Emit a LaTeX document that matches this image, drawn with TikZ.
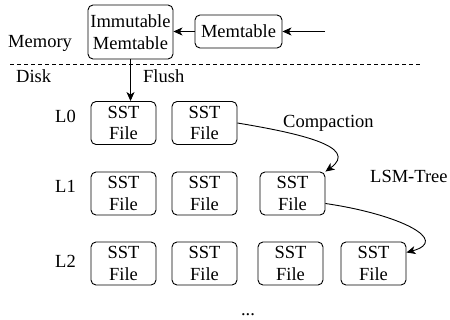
\documentclass[tikz,border=0pt]{standalone}
\usepackage{fontspec}
\setmainfont{Liberation Serif}
\usetikzlibrary{arrows.meta}
\begin{document}
\begin{tikzpicture}[x=1pt,y=-1pt,
  every node/.style={font=\fontsize{18.5}{21.5}\selectfont, inner sep=0pt},
  box/.style={draw, rounded corners=5pt, line width=0.9pt, align=center},
  sst/.style={box, minimum width=65pt, minimum height=43pt},
  lbl/.style={anchor=base west},
  arr/.style={line width=0.9pt, -{Stealth[length=9pt,width=8pt,inset=2.5pt]}}
]
\useasboundingbox (0,0) rectangle (450,320);

% memory tables
\node[box, minimum width=85pt, minimum height=54pt] (imm) at (130.5,32) {Immutable\\Memtable};
\node[box, minimum width=87pt, minimum height=33pt] (mem) at (238.5,31.5) {Memtable};
\coordinate (in) at (325,31.5);
\draw[arr] (in) -- (mem.east);
\draw[arr] (mem.west) -- (imm.east |- mem.west);

% memory / disk split
\draw[dash pattern=on 4pt off 3pt, line width=0.8pt] (10,64) -- (420,64);
\node[lbl] (memlbl) at (8,48) {Memory};
\node[lbl] (disklbl) at (16,83) {Disk};
\node[lbl] (flushlbl) at (143,83) {Flush};

% levels
\node[lbl] (l0lbl) at (55,123) {L0};
\node[lbl] (l1lbl) at (55,193) {L1};
\node[lbl] (l2lbl) at (55,268) {L2};

\node[sst] (l0a) at (123.5,123) {SST\\File};
\node[sst] (l0b) at (204.5,123) {SST\\File};

\node[sst] (l1a) at (123.5,193.5) {SST\\File};
\node[sst] (l1b) at (204.5,193.5) {SST\\File};
\node[sst] (l1c) at (292.5,193.5) {SST\\File};

\node[sst] (l2a) at (123.5,263.5) {SST\\File};
\node[sst] (l2b) at (204.5,263.5) {SST\\File};
\node[sst] (l2c) at (290.5,263.5) {SST\\File};
\node[sst] (l2d) at (373.5,263.5) {SST\\File};

% flush and compaction
\draw[arr] (imm.south) -- (imm.south |- l0a.north);
\draw[arr] (l0b.east) .. controls +(60,10) and +(35,-25) .. (l1c.north east);
\draw[arr] ([yshift=-10pt]l1c.east) .. controls +(75,11) and +(44,-12) .. ([yshift=11pt]l2d.east);

\node[lbl] (complbl) at (283,128) {Compaction};
\node[lbl] (lsmlbl) at (370,183) {LSM-Tree};
\node[anchor=base] (dots) at (248,316) {...};
\end{tikzpicture}
\end{document}
